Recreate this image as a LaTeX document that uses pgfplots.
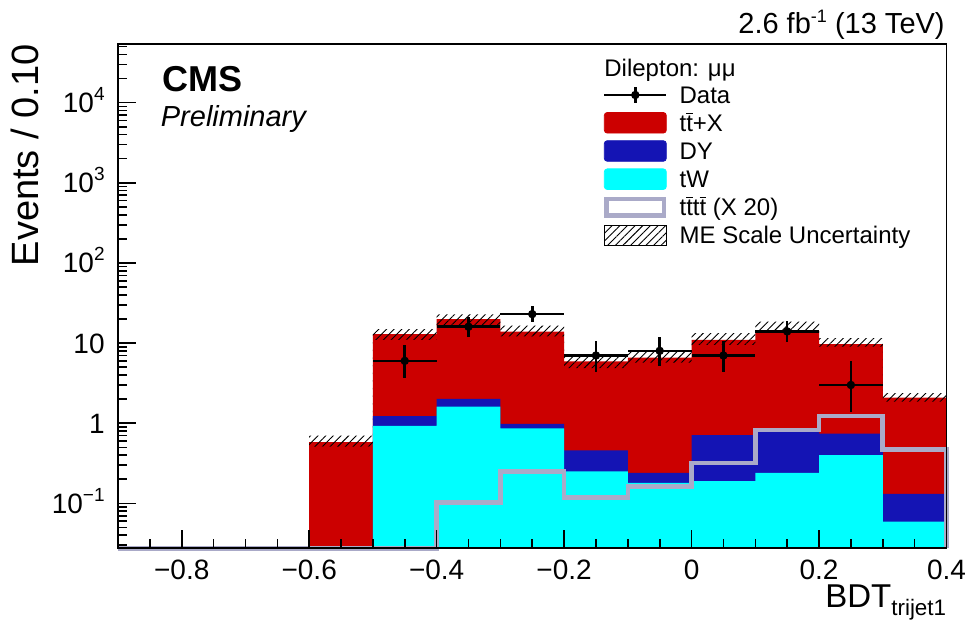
\documentclass[border=0pt]{standalone}
\usepackage{pgfplots}
\pgfplotsset{compat=1.18}
\usetikzlibrary{patterns.meta}
\usepackage{fontspec}
\setmainfont{Liberation Sans}
\definecolor{ttred}{RGB}{204,0,0}
\definecolor{dyblue}{RGB}{20,20,180}
\definecolor{twcyan}{RGB}{0,255,255}
\definecolor{tttgrey}{RGB}{170,170,200}
\newcommand{\tbar}{\ensuremath{\overline{\mbox{t}}}}
\newcommand{\tksup}[1]{\raisebox{6pt}{\fontsize{9.5}{9.5}\selectfont #1}}
\begin{document}
\begin{tikzpicture}
\useasboundingbox (-59pt,-37.85pt) rectangle (424.5pt,274.15pt);
\begin{axis}[
  axis on top,
  scale only axis, width=414.25pt, height=252.15pt,
  xmin=-0.9, xmax=0.4,
  ymode=log, ymin=0.0275, ymax=54000,
  clip=false,
  xtick={-0.8,-0.6,-0.4,-0.2,0,0.2,0.4},
  xticklabels={−0.8,−0.6,−0.4,−0.2,0,0.2,0.4},
  minor xtick={-0.85,-0.75,-0.7,-0.65,-0.55,-0.5,-0.45,-0.35,-0.3,-0.25,-0.15,-0.1,-0.05,0.05,0.1,0.15,0.25,0.3,0.35},
  ytick={0.1,1,10,100,1000,10000},
  yticklabels={10\tksup{−1},1,10,10\tksup{2},10\tksup{3},10\tksup{4}},
  minor ytick={0.03,0.04,0.05,0.06,0.07,0.08,0.09,0.2,0.3,0.4,0.5,0.6,0.7,0.8,0.9,2,3,4,5,6,7,8,9,20,30,40,50,60,70,80,90,200,300,400,500,600,700,800,900,2000,3000,4000,5000,6000,7000,8000,9000,20000,30000,40000,50000},
  tick pos=left,
  tick align=inside,
  major tick length=9pt, minor tick length=4.5pt,
  tick style={black, line width=0.8pt},
  axis line style={line width=0.8pt},
  ticklabel style={font=\fontsize{14}{14}\selectfont},
  xticklabel style={anchor=north, inner sep=0pt, yshift=-5.5pt},
  yticklabel style={anchor=base east, inner sep=0pt, xshift=-6.5pt, yshift=-5pt},
  legend style={at={(axis description cs:0.5854,0.9193)}, anchor=north west,
    draw=none, fill=none, inner sep=0pt, outer sep=0pt,
    row sep=3.4pt, column sep=6pt,
    font=\fontsize{12}{12}\selectfont,
    nodes={inner sep=0pt, text height=8.6pt, text depth=0pt, anchor=west}},
  legend cell align=left,
]
% t tbar + X (total stack)
\addplot[const plot, fill=ttred, draw=none, forget plot] coordinates {
(-0.6,0.0275) (-0.6,0.58) (-0.5,12.9) (-0.4,19.9) (-0.3,13.9) (-0.2,5.9) (-0.1,6.6)
(0,11.0) (0.1,14.2) (0.2,9.7) (0.3,2.09) (0.4,2.09) (0.4,0.0275)};
% DY (cumulative on top of tW)
\addplot[const plot, fill=dyblue, draw=none, forget plot] coordinates {
(-0.5,0.0275) (-0.5,1.23) (-0.4,2.01) (-0.3,0.98) (-0.2,0.46) (-0.1,0.24)
(0,0.71) (0.1,0.80) (0.2,0.74) (0.3,0.131) (0.4,0.131) (0.4,0.0275)};
% tW
\addplot[const plot, fill=twcyan, draw=none, forget plot] coordinates {
(-0.5,0.0275) (-0.5,0.93) (-0.4,1.61) (-0.3,0.86) (-0.2,0.25) (-0.1,0.18)
(0,0.19) (0.1,0.24) (0.2,0.40) (0.3,0.059) (0.4,0.059) (0.4,0.0275)};
% ME scale uncertainty band (upper edge, then lower edge reversed)
\addplot[pattern={Lines[angle=45,distance=2.7pt,line width=0.45pt]}, draw=none, forget plot] coordinates {
(-0.6,0.70) (-0.5,0.70) (-0.5,14.9) (-0.4,14.9) (-0.4,22.9) (-0.3,22.9) (-0.3,16.5) (-0.2,16.5)
(-0.2,7.1) (-0.1,7.1) (-0.1,7.8) (0,7.8) (0,13.3) (0.1,13.3) (0.1,18.5) (0.2,18.5)
(0.2,11.5) (0.3,11.5) (0.3,2.37) (0.4,2.37)
(0.4,1.86) (0.3,1.86) (0.3,9.04) (0.2,9.04) (0.2,13.5) (0.1,13.5) (0.1,9.5) (0,9.5)
(0,5.7) (-0.1,5.7) (-0.1,4.86) (-0.2,4.86) (-0.2,12.1) (-0.3,12.1) (-0.3,16.9) (-0.4,16.9)
(-0.4,11.0) (-0.5,11.0) (-0.5,0.51) (-0.6,0.51)} --cycle;
% Data
\addplot[only marks, mark=*, mark size=1.9pt, black, forget plot,
  error bars/.cd, x dir=both, x fixed=0.05, y dir=both, y explicit,
  error bar style={line width=1.3pt}, error mark=none]
coordinates {
(-0.45,6) += (0,3.58) -= (0,2.38)
(-0.35,16) += (0,5.08) -= (0,3.97)
(-0.25,23) += (0,5.86) -= (0,4.76)
(-0.15,7) += (0,3.77) -= (0,2.58)
(-0.05,8) += (0,3.95) -= (0,2.77)
(0.05,7) += (0,3.77) -= (0,2.58)
(0.15,14) += (0,4.83) -= (0,3.70)
(0.25,3) += (0,2.92) -= (0,1.63)
};
% tttt x 20
\addplot[const plot, draw=tttgrey, line width=2.3pt, forget plot] coordinates {
(-0.9,0.0275) (-0.4,0.102) (-0.3,0.249) (-0.2,0.119) (-0.1,0.162)
(0,0.32) (0.1,0.82) (0.2,1.23) (0.3,0.47) (0.4,0.0275)};
% legend
\addlegendimage{legend image code/.code={
  \path[draw=none, fill=none] (0pt,-5.15pt) rectangle (31pt,5.15pt);
  \draw[black, line width=1.3pt] (0pt,0pt) -- (31pt,0pt);
  \draw[black, line width=1.3pt] (15.5pt,-3.8pt) -- (15.5pt,3.8pt);
  \fill[black] (15.5pt,0pt) circle (1.9pt);}}
\addlegendentry{Data}
\addlegendimage{legend image code/.code={\fill[ttred, rounded corners=1.5pt] (0pt,-5.15pt) rectangle (31pt,5.15pt);}}
\addlegendentry{t\tbar+X}
\addlegendimage{legend image code/.code={\fill[dyblue, rounded corners=1.5pt] (0pt,-5.15pt) rectangle (31pt,5.15pt);}}
\addlegendentry{DY}
\addlegendimage{legend image code/.code={\fill[twcyan, rounded corners=1.5pt] (0pt,-5.15pt) rectangle (31pt,5.15pt);}}
\addlegendentry{tW}
\addlegendimage{legend image code/.code={
  \path[draw=none, fill=none] (0pt,-5.15pt) rectangle (31pt,5.15pt);
  \draw[tttgrey, line width=2.3pt, fill=white] (1.15pt,-4.2pt) rectangle (29.85pt,4.2pt);}}
\addlegendentry{t\tbar t\tbar{} (X 20)}
\addlegendimage{legend image code/.code={
  \draw[black, line width=0.5pt, pattern={Lines[angle=45,distance=2.7pt,line width=0.45pt]}] (0pt,-5pt) rectangle (31pt,5pt);}}
\addlegendentry{ME Scale Uncertainty}
\end{axis}
\node[anchor=base west, inner sep=0pt, font=\fontsize{12}{12}\selectfont] at (243pt,236pt) {Dilepton: μμ};
\node[anchor=base east, inner sep=0pt, font=\fontsize{14.5}{14.5}\selectfont] at (413.5pt,257.4pt) {2.6 fb\raisebox{5.5pt}{\fontsize{9}{9}\selectfont -1} (13 TeV)};
\node[anchor=base west, inner sep=0pt, font=\bfseries\fontsize{18}{18}\selectfont] at (21.9pt,228.15pt) {CMS};
\node[anchor=base west, inner sep=0pt, font=\itshape\fontsize{14.5}{14.5}\selectfont] at (21.25pt,210.95pt) {Preliminary};
\node[rotate=90, anchor=base east, inner sep=0pt, font=\fontsize{19}{19}\selectfont] at (-40pt,252.15pt) {Events / 0.10};
\node[anchor=base east, inner sep=0pt] at (414.25pt,-29.6pt) {\fontsize{16.5}{16.5}\selectfont BDT\raisebox{-4.2pt}{\fontsize{11.2}{11.2}\selectfont trijet1}};
\end{tikzpicture}
\end{document}
